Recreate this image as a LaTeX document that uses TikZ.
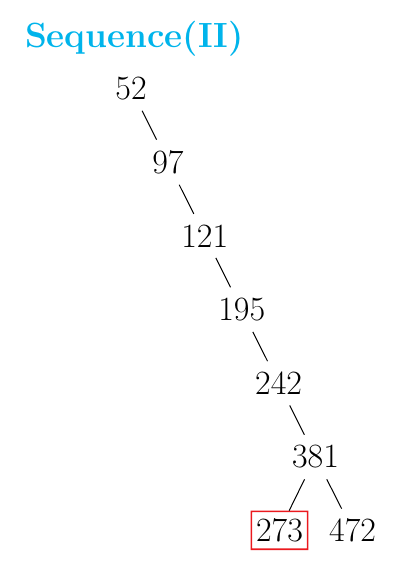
\documentclass[tikz,border=0pt]{standalone}
\usepackage{fontspec}
\setmainfont{Latin Modern Roman}
\definecolor{titlecyan}{RGB}{0,180,235}
\definecolor{boxred}{RGB}{235,25,30}
\begin{document}
\begin{tikzpicture}[x=1pt,y=-1pt,
  every node/.style={font=\fontsize{34}{40}\selectfont},
  num/.style={inner xsep=4.5pt,inner ysep=7pt},
  boxframe/.style={fill=boxred,even odd rule},
  edgeline/.style={line width=1pt,shorten <=4pt,shorten >=4pt}]
\useasboundingbox (0,0) rectangle (400,562);
\node[anchor=base west,text=titlecyan,font=\fontsize{35}{42}\selectfont\bfseries] (title) at (21.5,47) {Sequence(II)};
\node[num] (n52) at (131,88.5) {52};
\node[num] (n97) at (167.9,162.2) {97};
\node[num] (n121) at (204.8,235.9) {121};
\node[num] (n195) at (241.7,309.6) {195};
\node[num] (n242) at (278.6,383.3) {242};
\node[num] (n381) at (315.5,457) {381};
\node[num] (n273) at (279.5,530.3) {273};
\node[num] (n472) at (352.6,530.3) {472};
\fill[boxframe] ([shift={(-0.8,0.8)}]n273.south west) rectangle ([shift={(0.8,-0.8)}]n273.north east)
  ([shift={(0.8,-0.8)}]n273.south west) rectangle ([shift={(-0.8,0.8)}]n273.north east);
\draw[edgeline] (n52) -- (n97);
\draw[edgeline] (n97) -- (n121);
\draw[edgeline] (n121) -- (n195);
\draw[edgeline] (n195) -- (n242);
\draw[edgeline] (n242) -- (n381);
\draw[edgeline,shorten >=0.8pt] (n381) -- (n273);
\draw[edgeline,shorten >=3pt] (n381) -- (n472);
\end{tikzpicture}
\end{document}
